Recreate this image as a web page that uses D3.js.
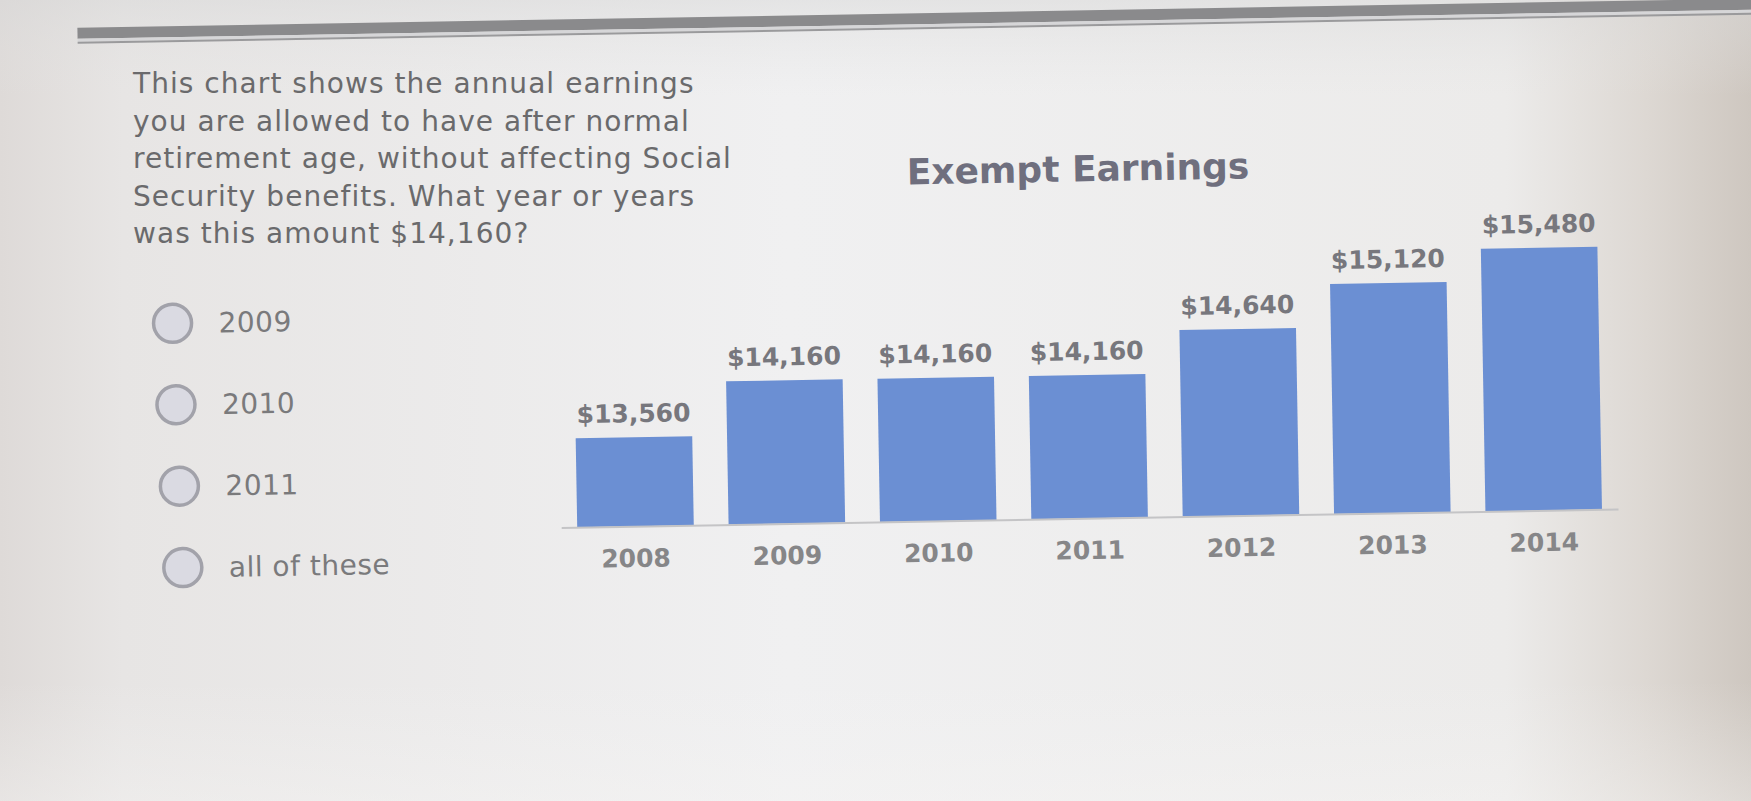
<!DOCTYPE html>
<html>
<head>
<meta charset="utf-8">
<script src="https://cdn.jsdelivr.net/npm/d3@7"></script>
<style>
  html, body { margin: 0; padding: 0; background: #ececec; overflow: hidden; }
  svg { display: block; font-family: "DejaVu Sans", Verdana, sans-serif; }
</style>
</head>
<body>
<svg id="chart" width="1751" height="801"></svg>
<script>
// Data
const years = ['2008', '2009', '2010', '2011', '2012', '2013', '2014'];
const earnings = [13560, 14160, 14160, 14160, 14640, 15120, 15480];
const chartTitle = 'Exempt Earnings';
const questionLines = [
  'This chart shows the annual earnings',
  'you are allowed to have after normal',
  'retirement age, without affecting Social',
  'Security benefits. What year or years',
  'was this amount $14,160?'
];
const answers = ['2009', '2010', '2011', 'all of these'];

const svg = d3.select('#chart');
const W = 1751, H = 801;

// background (photo of a screen: slightly darker at the edges)
const defs = svg.append('defs');
const bg = defs.append('linearGradient').attr('id', 'bg').attr('x1', 0).attr('x2', 1).attr('y1', 0).attr('y2', 0);
[[0, '#dedad8'], [0.07, '#e7e5e4'], [0.45, '#f0f0f1'], [0.86, '#ecebea'], [0.94, '#ddd8d3'], [1, '#cec7c0']]
  .forEach(s => bg.append('stop').attr('offset', s[0]).attr('stop-color', s[1]));
const vg = defs.append('linearGradient').attr('id', 'vg').attr('x1', 0).attr('x2', 0).attr('y1', 0).attr('y2', 1);
[[0, '#d8d8d8', 0.5], [0.12, '#e4e4e4', 0], [0.85, '#f4f4f4', 0], [1, '#f6f5f4', 0.4]]
  .forEach(s => vg.append('stop').attr('offset', s[0]).attr('stop-color', s[1]).attr('stop-opacity', s[2]));

svg.append('rect').attr('width', W).attr('height', H).attr('fill', 'url(#bg)');
svg.append('rect').attr('width', W).attr('height', H).attr('fill', 'url(#vg)');

// question text (kept level so the lines don't collide)
svg.append('g').selectAll('text')
  .data(questionLines)
  .join('text')
  .attr('x', 133)
  .attr('y', (d, i) => 93 + i * 37.5)
  .attr('font-size', 28)
  .attr('letter-spacing', 1.05)
  .attr('fill', '#6a6a6c')
  .text(d => d);

// the rest is slightly tilted in the photo
const page = svg.append('g').attr('transform', 'rotate(-1, 875, 400)');

// gray header rule
page.append('rect').attr('x', 84).attr('y', 14).attr('width', 1720).attr('height', 11).attr('fill', '#8a8a8c');
page.append('rect').attr('x', 84).attr('y', 25).attr('width', 1720).attr('height', 3).attr('fill', '#d6d6d8');
page.append('rect').attr('x', 84).attr('y', 28).attr('width', 1720).attr('height', 2).attr('fill', '#9a9a9c');

// answer choices
const opt = page.append('g').selectAll('g')
  .data(answers)
  .join('g')
  .attr('transform', (d, i) => `translate(${174 + i * 2},${311 + i * 81.5})`);
opt.append('circle')
  .attr('r', 19)
  .attr('fill', '#dadae2')
  .attr('stroke', '#a2a2aa')
  .attr('stroke-width', 3.5);
opt.append('text')
  .attr('x', 46)
  .attr('y', 10)
  .attr('font-size', 28)
  .attr('letter-spacing', 0.5)
  .attr('fill', '#7a7a7c')
  .text(d => d);

// chart
const x = d3.scaleBand()
  .domain(years)
  .range([559, 1616])
  .paddingInner(0.23)
  .paddingOuter(0.106);

const y = d3.scaleLinear()
  .domain([12575, 16000])
  .range([522, 522 - 3425 * 0.0904]);

page.append('text')
  .attr('x', 1082)
  .attr('y', 185)
  .attr('text-anchor', 'middle')
  .attr('font-size', 36)
  .attr('font-weight', 'bold')
  .attr('fill', '#6f6f7e')
  .text(chartTitle);

const data = years.map((yr, i) => ({ year: yr, value: earnings[i] }));

page.append('g').selectAll('rect')
  .data(data)
  .join('rect')
  .attr('x', d => x(d.year))
  .attr('y', d => y(d.value))
  .attr('width', x.bandwidth())
  .attr('height', d => y.range()[0] - y(d.value))
  .attr('fill', '#6b8fd3');

page.append('g').selectAll('text')
  .data(data)
  .join('text')
  .attr('x', d => x(d.year) + x.bandwidth() / 2)
  .attr('y', d => y(d.value) - 15)
  .attr('text-anchor', 'middle')
  .attr('font-size', 25)
  .attr('font-weight', 'bold')
  .attr('fill', '#77777d')
  .text(d => '$' + d3.format(',')(d.value));

const xAxis = page.append('g')
  .attr('transform', `translate(0,${y.range()[0]})`)
  .call(d3.axisBottom(x).tickSize(0).tickPadding(23));
xAxis.select('.domain').attr('stroke', '#c4c4c6').attr('stroke-width', 2);
xAxis.selectAll('text')
  .attr('font-family', '"DejaVu Sans", Verdana, sans-serif')
  .attr('font-size', 25)
  .attr('font-weight', 'bold')
  .attr('fill', '#868688');
</script>
</body>
</html>
